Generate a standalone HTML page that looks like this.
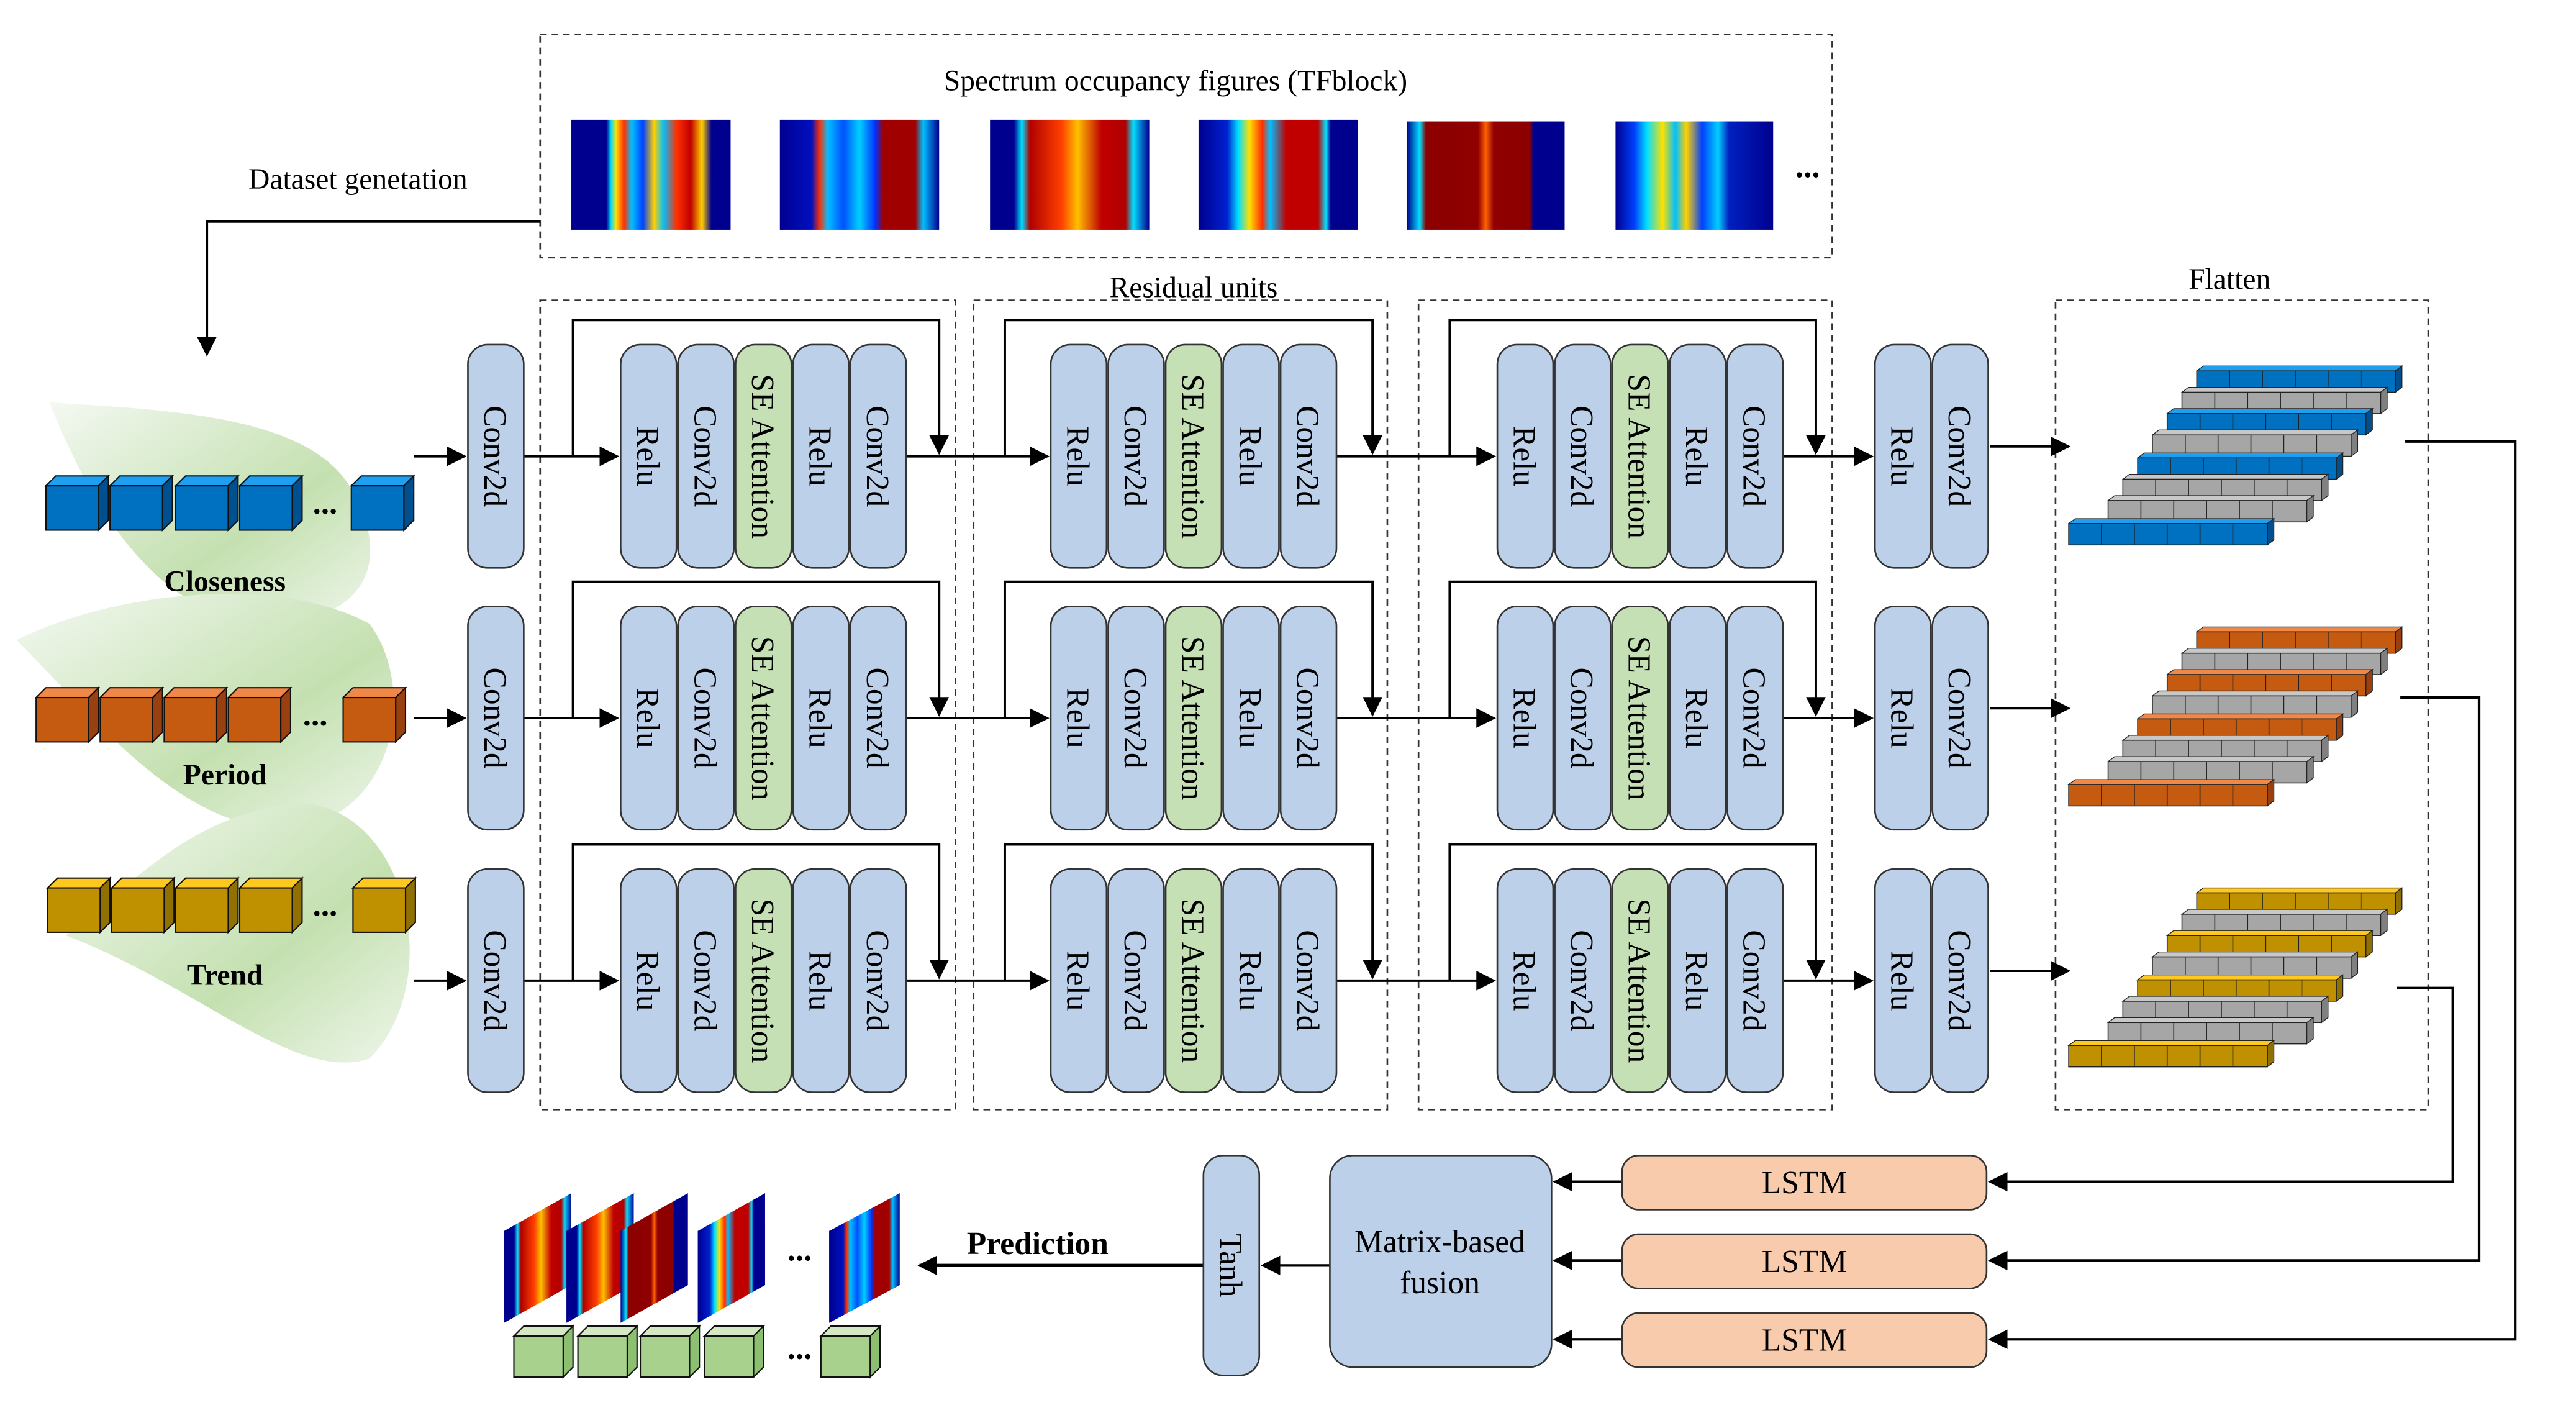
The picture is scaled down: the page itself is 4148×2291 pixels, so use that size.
<!DOCTYPE html>
<html><head><meta charset="utf-8"><style>html,body{margin:0;padding:0;background:#fff}svg{display:block}svg text{font-family:"Liberation Serif","DejaVu Serif",serif}</style></head>
<body>
<svg xmlns="http://www.w3.org/2000/svg" width="4148" height="2291" viewBox="0 0 1569 867" preserveAspectRatio="none">
<defs>
<marker id="ar2" viewBox="0 0 10 10" refX="9" refY="5" markerWidth="12" markerHeight="12" orient="auto" markerUnits="userSpaceOnUse"><path d="M0,0 L10,5 L0,10 z" fill="#000"/></marker>
<linearGradient id="leaf" x1="0" y1="0" x2="1" y2="1"><stop offset="0" stop-color="#f4f9f2"/><stop offset="0.6" stop-color="#c4e0b0"/><stop offset="1" stop-color="#eef6ea"/></linearGradient>
<linearGradient id="s1" x1="0" x2="1"><stop offset="0" stop-color="#00008f"/><stop offset=".22" stop-color="#00008f"/><stop offset=".25" stop-color="#00e0ff"/><stop offset=".28" stop-color="#ffe000"/><stop offset=".33" stop-color="#ff3000"/><stop offset=".38" stop-color="#00c0ff"/><stop offset=".45" stop-color="#0040ff"/><stop offset=".52" stop-color="#ffd000"/><stop offset=".58" stop-color="#00c0ff"/><stop offset=".66" stop-color="#ff3000"/><stop offset=".75" stop-color="#c00000"/><stop offset=".82" stop-color="#ffd000"/><stop offset=".88" stop-color="#00008f"/><stop offset="1" stop-color="#00008f"/></linearGradient>
<linearGradient id="s2" x1="0" x2="1"><stop offset="0" stop-color="#00008f"/><stop offset=".2" stop-color="#0010c0"/><stop offset=".25" stop-color="#ff3000"/><stop offset=".3" stop-color="#00c0ff"/><stop offset=".4" stop-color="#0050ff"/><stop offset=".5" stop-color="#00d0ff"/><stop offset=".6" stop-color="#0030ff"/><stop offset=".65" stop-color="#a00000"/><stop offset=".85" stop-color="#a00000"/><stop offset=".9" stop-color="#00c0ff"/><stop offset="1" stop-color="#00008f"/></linearGradient>
<linearGradient id="s3" x1="0" x2="1"><stop offset="0" stop-color="#00008f"/><stop offset=".15" stop-color="#00008f"/><stop offset=".2" stop-color="#00e0ff"/><stop offset=".25" stop-color="#b00000"/><stop offset=".45" stop-color="#ff4000"/><stop offset=".55" stop-color="#ffc000"/><stop offset=".7" stop-color="#c00000"/><stop offset=".85" stop-color="#b00000"/><stop offset=".9" stop-color="#00e0ff"/><stop offset="1" stop-color="#00008f"/></linearGradient>
<linearGradient id="s4" x1="0" x2="1"><stop offset="0" stop-color="#00008f"/><stop offset=".18" stop-color="#0020d0"/><stop offset=".25" stop-color="#00e0ff"/><stop offset=".32" stop-color="#ffe000"/><stop offset=".4" stop-color="#ff3000"/><stop offset=".45" stop-color="#00c0ff"/><stop offset=".55" stop-color="#c00000"/><stop offset=".75" stop-color="#c00000"/><stop offset=".8" stop-color="#00e0ff"/><stop offset=".83" stop-color="#00008f"/><stop offset="1" stop-color="#00008f"/></linearGradient>
<linearGradient id="s5" x1="0" x2="1"><stop offset="0" stop-color="#00008f"/><stop offset=".08" stop-color="#00e0ff"/><stop offset=".12" stop-color="#8b0000"/><stop offset=".45" stop-color="#900000"/><stop offset=".5" stop-color="#ff6000"/><stop offset=".55" stop-color="#900000"/><stop offset=".78" stop-color="#8b0000"/><stop offset=".8" stop-color="#00008f"/><stop offset="1" stop-color="#00008f"/></linearGradient>
<linearGradient id="s6" x1="0" x2="1"><stop offset="0" stop-color="#00008f"/><stop offset=".12" stop-color="#0040ff"/><stop offset=".2" stop-color="#00e0ff"/><stop offset=".3" stop-color="#ffe000"/><stop offset=".38" stop-color="#00c0ff"/><stop offset=".45" stop-color="#ffd000"/><stop offset=".55" stop-color="#0040ff"/><stop offset=".65" stop-color="#00d0ff"/><stop offset=".72" stop-color="#0020c0"/><stop offset="1" stop-color="#00008f"/></linearGradient>
<g id="cb"><polygon points="0,6 6,0 38,0 32,6" fill="#1e9ff0" stroke="#111" stroke-width=".8"/><polygon points="32,6 38,0 38,27 32,33" fill="#00508f" stroke="#111" stroke-width=".8"/><rect x="0" y="6" width="32" height="27" fill="#0070c0" stroke="#111" stroke-width=".8"/></g>
<g id="co"><polygon points="0,6 6,0 38,0 32,6" fill="#f08848" stroke="#111" stroke-width=".8"/><polygon points="32,6 38,0 38,27 32,33" fill="#984010" stroke="#111" stroke-width=".8"/><rect x="0" y="6" width="32" height="27" fill="#c55a11" stroke="#111" stroke-width=".8"/></g>
<g id="cy"><polygon points="0,6 6,0 38,0 32,6" fill="#ffc820" stroke="#111" stroke-width=".8"/><polygon points="32,6 38,0 38,27 32,33" fill="#907000" stroke="#111" stroke-width=".8"/><rect x="0" y="6" width="32" height="27" fill="#bf9000" stroke="#111" stroke-width=".8"/></g>
<g id="cg"><polygon points="0,6 6,0 36,0 30,6" fill="#d4e8c4" stroke="#111" stroke-width=".8"/><polygon points="30,6 36,0 36,25 30,31" fill="#8cc070" stroke="#111" stroke-width=".8"/><rect x="0" y="6" width="30" height="25" fill="#a9d18e" stroke="#111" stroke-width=".8"/></g>
<g id="rb"><polygon points="0,3 4,0 125,0 121,3" fill="#1e9ff0" stroke="#222" stroke-width=".5"/><polygon points="121,3 125,0 125,13 121,16" fill="#00508f" stroke="#222" stroke-width=".5"/><rect x="0" y="3" width="121" height="13" fill="#0070c0" stroke="#222" stroke-width=".6"/><path d="M20,3v13M40,3v13M60,3v13M80,3v13M100,3v13" stroke="#222" stroke-width=".6"/></g>
<g id="ro"><polygon points="0,3 4,0 125,0 121,3" fill="#f08848" stroke="#222" stroke-width=".5"/><polygon points="121,3 125,0 125,13 121,16" fill="#984010" stroke="#222" stroke-width=".5"/><rect x="0" y="3" width="121" height="13" fill="#c55a11" stroke="#222" stroke-width=".6"/><path d="M20,3v13M40,3v13M60,3v13M80,3v13M100,3v13" stroke="#222" stroke-width=".6"/></g>
<g id="ry"><polygon points="0,3 4,0 125,0 121,3" fill="#ffc820" stroke="#222" stroke-width=".5"/><polygon points="121,3 125,0 125,13 121,16" fill="#907000" stroke="#222" stroke-width=".5"/><rect x="0" y="3" width="121" height="13" fill="#bf9000" stroke="#222" stroke-width=".6"/><path d="M20,3v13M40,3v13M60,3v13M80,3v13M100,3v13" stroke="#222" stroke-width=".6"/></g>
<g id="rg"><polygon points="0,3 4,0 125,0 121,3" fill="#c8c8c8" stroke="#222" stroke-width=".5"/><polygon points="121,3 125,0 125,13 121,16" fill="#808080" stroke="#222" stroke-width=".5"/><rect x="0" y="3" width="121" height="13" fill="#a6a6a6" stroke="#222" stroke-width=".6"/><path d="M20,3v13M40,3v13M60,3v13M80,3v13M100,3v13" stroke="#222" stroke-width=".6"/></g>
</defs>

<path d="M30,245 C90,250 190,250 215,300 C240,345 220,380 160,380 C100,375 60,320 30,245 z" fill="url(#leaf)"/>
<path d="M10,390 C70,360 170,350 225,380 C255,420 240,500 175,505 C110,505 60,440 10,390 z" fill="url(#leaf)"/>
<path d="M40,570 C80,540 120,490 190,490 C250,500 270,600 225,645 C180,660 120,600 40,570 z" fill="url(#leaf)"/>

<g fill="none" stroke="#333" stroke-width="1" stroke-dasharray="4,3">
<rect x="329" y="21" width="787" height="136"/>
<rect x="329" y="183" width="253" height="493"/>
<rect x="593" y="183" width="252" height="493"/>
<rect x="864" y="183" width="252" height="493"/>
<rect x="1252" y="183" width="227" height="493"/>
</g>
<text x="716" y="55" font-size="18" text-anchor="middle">Spectrum occupancy figures (TFblock)</text>
<g stroke="none">
<rect x="348" y="73" width="97" height="67" fill="url(#s1)"/>
<rect x="475" y="73" width="97" height="67" fill="url(#s2)"/>
<rect x="603" y="73" width="97" height="67" fill="url(#s3)"/>
<rect x="730" y="73" width="97" height="67" fill="url(#s4)"/>
<rect x="857" y="74" width="96" height="66" fill="url(#s5)"/>
<rect x="984" y="74" width="96" height="66" fill="url(#s6)"/>
</g>
<text x="1101" y="108" font-size="20" font-weight="bold" text-anchor="middle">...</text>
<text x="218" y="115" font-size="18" text-anchor="middle">Dataset genetation</text>
<polyline points="329,135 126,135 126,216" fill="none" stroke="#000" stroke-width="1.5" marker-end="url(#ar2)"/>
<text x="727" y="181" font-size="18" text-anchor="middle">Residual units</text>
<text x="1358" y="176" font-size="18" text-anchor="middle">Flatten</text>

<use href="#cb" x="28" y="290"/><use href="#cb" x="67" y="290"/><use href="#cb" x="107" y="290"/><use href="#cb" x="146" y="290"/><use href="#cb" x="214" y="290"/>
<text x="198" y="313" font-size="20" font-weight="bold" text-anchor="middle">...</text>
<text x="137" y="360" font-size="18" font-weight="bold" text-anchor="middle">Closeness</text>
<use href="#co" x="22" y="419"/><use href="#co" x="61" y="419"/><use href="#co" x="100" y="419"/><use href="#co" x="139" y="419"/><use href="#co" x="209" y="419"/>
<text x="192" y="442" font-size="20" font-weight="bold" text-anchor="middle">...</text>
<text x="137" y="478" font-size="18" font-weight="bold" text-anchor="middle">Period</text>
<use href="#cy" x="29" y="535"/><use href="#cy" x="68" y="535"/><use href="#cy" x="107" y="535"/><use href="#cy" x="146" y="535"/><use href="#cy" x="215" y="535"/>
<text x="198" y="558" font-size="20" font-weight="bold" text-anchor="middle">...</text>
<text x="137" y="600" font-size="18" font-weight="bold" text-anchor="middle">Trend</text>

<g id="row1">
<g stroke="#000" stroke-width="1.5" fill="none">
<line x1="252" y1="278" x2="283" y2="278" marker-end="url(#ar2)"/>
<line x1="319" y1="278" x2="376" y2="278" marker-end="url(#ar2)"/>
<polyline points="349,278 349,195 572,195 572,276" marker-end="url(#ar2)"/>
<line x1="551" y1="278" x2="638" y2="278" marker-end="url(#ar2)"/>
<polyline points="612,278 612,195 836,195 836,276" marker-end="url(#ar2)"/>
<line x1="814" y1="278" x2="910" y2="278" marker-end="url(#ar2)"/>
<polyline points="883,278 883,195 1106,195 1106,276" marker-end="url(#ar2)"/>
<line x1="1086" y1="278" x2="1140" y2="278" marker-end="url(#ar2)"/>
<line x1="1212" y1="272" x2="1260" y2="272" marker-end="url(#ar2)"/>
</g>
<g stroke="#333" stroke-width="1" fill="#bdd0ea">
<rect x="285" y="210" width="34" height="136" rx="12"/>
<rect x="378" y="210" width="34" height="136" rx="12"/><rect x="413" y="210" width="34" height="136" rx="12"/><rect x="448" y="210" width="34" height="136" rx="12" fill="#c5e0b4"/><rect x="483" y="210" width="34" height="136" rx="12"/><rect x="518" y="210" width="34" height="136" rx="12"/>
<rect x="640" y="210" width="34" height="136" rx="12"/><rect x="675" y="210" width="34" height="136" rx="12"/><rect x="710" y="210" width="34" height="136" rx="12" fill="#c5e0b4"/><rect x="745" y="210" width="34" height="136" rx="12"/><rect x="780" y="210" width="34" height="136" rx="12"/>
<rect x="912" y="210" width="34" height="136" rx="12"/><rect x="947" y="210" width="34" height="136" rx="12"/><rect x="982" y="210" width="34" height="136" rx="12" fill="#c5e0b4"/><rect x="1017" y="210" width="34" height="136" rx="12"/><rect x="1052" y="210" width="34" height="136" rx="12"/>
<rect x="1142" y="210" width="34" height="136" rx="12"/><rect x="1177" y="210" width="34" height="136" rx="12"/>
</g>
<g font-size="19.5" text-anchor="middle">
<text transform="translate(295,278) rotate(90)">Conv2d</text>
<text transform="translate(388,278) rotate(90)">Relu</text><text transform="translate(423,278) rotate(90)">Conv2d</text><text transform="translate(458,278) rotate(90)">SE Attention</text><text transform="translate(493,278) rotate(90)">Relu</text><text transform="translate(528,278) rotate(90)">Conv2d</text>
<text transform="translate(650,278) rotate(90)">Relu</text><text transform="translate(685,278) rotate(90)">Conv2d</text><text transform="translate(720,278) rotate(90)">SE Attention</text><text transform="translate(755,278) rotate(90)">Relu</text><text transform="translate(790,278) rotate(90)">Conv2d</text>
<text transform="translate(922,278) rotate(90)">Relu</text><text transform="translate(957,278) rotate(90)">Conv2d</text><text transform="translate(992,278) rotate(90)">SE Attention</text><text transform="translate(1027,278) rotate(90)">Relu</text><text transform="translate(1062,278) rotate(90)">Conv2d</text>
<text transform="translate(1152,278) rotate(90)">Relu</text><text transform="translate(1187,278) rotate(90)">Conv2d</text>
</g>
</g>
<use href="#row1" x="0" y="159.5"/>
<use href="#row1" x="0" y="319.5"/>

<g><use href="#rb" x="1338" y="223"/><use href="#rg" x="1329" y="236"/><use href="#rb" x="1320" y="249"/><use href="#rg" x="1311" y="262"/><use href="#rb" x="1302" y="276"/><use href="#rg" x="1293" y="289"/><use href="#rg" x="1284" y="302"/><use href="#rb" x="1260" y="316"/></g>
<g><use href="#ro" x="1338" y="382"/><use href="#rg" x="1329" y="395"/><use href="#ro" x="1320" y="408"/><use href="#rg" x="1311" y="421"/><use href="#ro" x="1302" y="435"/><use href="#rg" x="1293" y="448"/><use href="#rg" x="1284" y="461"/><use href="#ro" x="1260" y="475"/></g>
<g><use href="#ry" x="1338" y="541"/><use href="#rg" x="1329" y="554"/><use href="#ry" x="1320" y="567"/><use href="#rg" x="1311" y="580"/><use href="#ry" x="1302" y="594"/><use href="#rg" x="1293" y="607"/><use href="#rg" x="1284" y="620"/><use href="#ry" x="1260" y="634"/></g>

<g stroke="#000" stroke-width="1.6" fill="none">
<polyline points="1465,269 1532,269 1532,816 1212,816" marker-end="url(#ar2)"/>
<polyline points="1462,425 1510,425 1510,768 1212,768" marker-end="url(#ar2)"/>
<polyline points="1460,602 1494,602 1494,720 1212,720" marker-end="url(#ar2)"/>
<line x1="988" y1="720" x2="947" y2="720" marker-end="url(#ar2)"/>
<line x1="988" y1="768" x2="947" y2="768" marker-end="url(#ar2)"/>
<line x1="988" y1="816" x2="947" y2="816" marker-end="url(#ar2)"/>
<line x1="810" y1="771" x2="769" y2="771" marker-end="url(#ar2)"/>
<line x1="733" y1="771" x2="560" y2="771" stroke-width="2" marker-end="url(#ar2)"/>
</g>
<g stroke="#333" stroke-width="1" fill="#f8cbad">
<rect x="988" y="704" width="222" height="33" rx="10"/>
<rect x="988" y="752" width="222" height="33" rx="10"/>
<rect x="988" y="800" width="222" height="33" rx="10"/>
</g>
<g font-size="19.5" text-anchor="middle"><text x="1099" y="727">LSTM</text><text x="1099" y="775">LSTM</text><text x="1099" y="823">LSTM</text></g>
<rect x="810" y="704" width="135" height="129" rx="14" fill="#bdd0ea" stroke="#333"/>
<text x="877" y="763" font-size="19.5" text-anchor="middle">Matrix-based</text>
<text x="877" y="788" font-size="19.5" text-anchor="middle">fusion</text>
<rect x="733" y="704" width="34" height="134" rx="12" fill="#bdd0ea" stroke="#333"/>
<text transform="translate(743,771) rotate(90)" font-size="19.5" text-anchor="middle">Tanh</text>
<text x="632" y="764" font-size="19.5" font-weight="bold" text-anchor="middle">Prediction</text>

<polygon points="307,750 348,727 348,783 307,806" fill="url(#s3)"/>
<polygon points="345,750 386,727 386,783 345,806" fill="url(#s3)"/>
<polygon points="378,750 419,727 419,783 378,806" fill="url(#s5)"/>
<polygon points="425,750 466,727 466,783 425,806" fill="url(#s4)"/>
<polygon points="505,750 548,727 548,783 505,806" fill="url(#s2)"/>
<text x="487" y="768" font-size="20" font-weight="bold" text-anchor="middle">...</text>
<use href="#cg" x="313" y="808"/><use href="#cg" x="352" y="808"/><use href="#cg" x="390" y="808"/><use href="#cg" x="429" y="808"/><use href="#cg" x="500" y="808"/>
<text x="487" y="828" font-size="20" font-weight="bold" text-anchor="middle">...</text>
</svg>
</body></html>
